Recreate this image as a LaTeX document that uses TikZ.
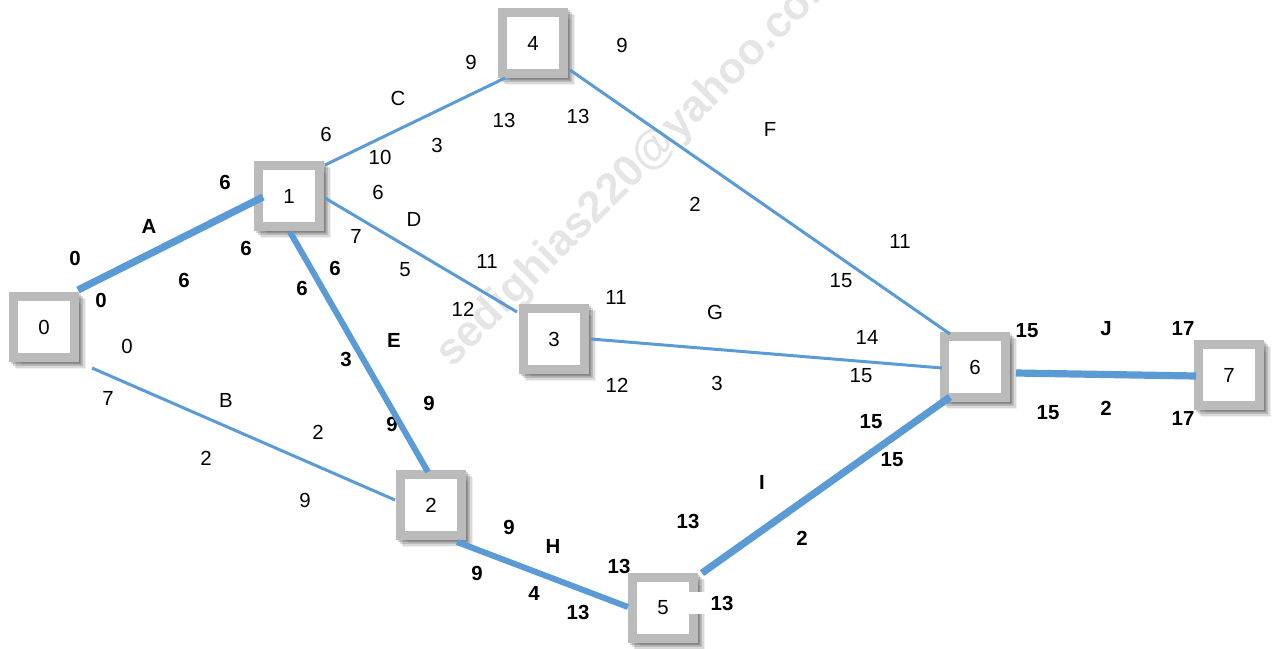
\documentclass[tikz,border=0pt]{standalone}
\usepackage{fontspec}
\setmainfont{Liberation Sans}
\usetikzlibrary{calc,shadows}
\definecolor{edgeblue}{HTML}{5B9BD5}
\definecolor{framegray}{HTML}{BBBBBB}
\tikzset{
  softshade/.style={fill=black, draw=black, line width=4.5pt, opacity=#1},
  evnode/.style={draw=framegray, line width=4.5pt, fill=white, minimum size=30.5pt,
    inner sep=0pt, font=\fontsize{10.2}{12}\selectfont,
    drop shadow={shadow xshift=3.6pt, shadow yshift=-3.6pt, softshade=0.06},
    drop shadow={shadow xshift=2.8pt, shadow yshift=-2.8pt, softshade=0.10},
    drop shadow={shadow xshift=2.0pt, shadow yshift=-2.0pt, softshade=0.14},
    drop shadow={shadow xshift=1.2pt, shadow yshift=-1.2pt, softshade=0.16}},
  act/.style={edgeblue, line width=1.5pt},
  crit/.style={edgeblue, line width=3.6pt},
  lbl/.style={font=\fontsize{10.2}{12}\selectfont, inner sep=1pt},
  lblb/.style={font=\fontsize{10.2}{12}\selectfont\bfseries, inner sep=1pt},
}
\begin{document}
\begin{tikzpicture}[x=0.5pt, y=-0.5pt]
\useasboundingbox (0,0) rectangle (1272,648);

% watermark
\node[rotate=45, anchor=base west, text=black!10, inner sep=0pt,
      font=\fontsize{22}{26}\selectfont\bfseries] (wm) at (452,369) {sedighias220@yahoo.com};

% earliest/latest times and durations (regular)
\foreach \x/\y/\t [count=\i] in {
  127/346/0, 108/398/7, 226/400/B, 318/432/2, 206/458/2, 305/500/9,
  326/134/6, 398/98/C, 471/62/9, 380/157/10, 437/145/3, 504/120/13, 578/116/13, 622/45/9,
  378/192/6, 414/219/D, 356/236/7, 405/270/5, 487/261/11, 463/309/12,
  616/297/11, 715/312/G, 617/385/12, 717/383/3, 867/337/14, 861/376/15,
  770/129/F, 695/204/2, 900/241/11, 841/281/15}
  \node[lbl] (r\i) at (\x,\y) {\t};

% critical path figures (bold)
\foreach \x/\y/\t [count=\i] in {
  75/258/0, 149/226/A, 225/182/6, 101/300/0, 184/280/6, 246/248/6,
  335/268/6, 302/288/6, 346/359/3, 394/340/E, 429/403/9, 392/424/9,
  509/527/9, 553/546/H, 619/566/13, 477/573/9, 534/593/4, 578/612/13,
  688/521/13, 762/482/I, 802/538/2, 871/422/15, 892/460/15,
  1027/331/15, 1106/329/J, 1183/328/17, 1048/413/15, 1106/408/2, 1183/418/17}
  \node[lblb] (b\i) at (\x,\y) {\t};

% events
\node[evnode] (n0) at (44,327) {0};
\node[evnode] (n1) at (289,196) {1};
\node[evnode] (n2) at (431,505) {2};
\node[evnode] (n3) at (554,339) {3};
\node[evnode] (n4) at (533,43) {4};
\node[evnode] (n5) at (663,608) {5};
\node[evnode] (n6) at (975,367) {6};
\node[evnode] (n7) at (1229,375) {7};

% activities
\draw[crit] ($(n0)+(34,-37)$) -- ($(n1)+(-26,1)$);   % A
\draw[act]  ($(n0)+(48,41)$)  -- ($(n2)+(-36,-5)$);  % B
\draw[act]  ($(n1)+(36,-31)$) -- ($(n4)+(-28,35)$);  % C
\draw[act]  ($(n1)+(36,2)$)   -- ($(n3)+(-37,-27)$); % D
\draw[crit, line width=3pt] ($(n1)+(1,36)$) -- ($(n2)+(-3,-33)$); % E
\draw[act]  ($(n4)+(37,27)$)  -- ($(n6)+(-25,-33)$); % F
\draw[act]  ($(n3)+(37,0)$)   -- ($(n6)+(-33,1)$);   % G
\draw[crit, line width=3pt] ($(n2)+(26,37)$) -- ($(n5)+(-35,-1)$); % H
\draw[crit] ($(n5)+(39,-35)$) -- ($(n6)+(-25,30)$);  % I
\draw[crit] ($(n6)+(41,6)$)   -- ($(n7)+(-33,1)$);   % J

% label beside event 5 sits on a white patch over its frame
\node[lblb, fill=white, anchor=west, inner sep=0pt, minimum height=11pt] (b30) at (689,603)
  {\makebox[22pt][r]{13}};
\end{tikzpicture}
\end{document}
